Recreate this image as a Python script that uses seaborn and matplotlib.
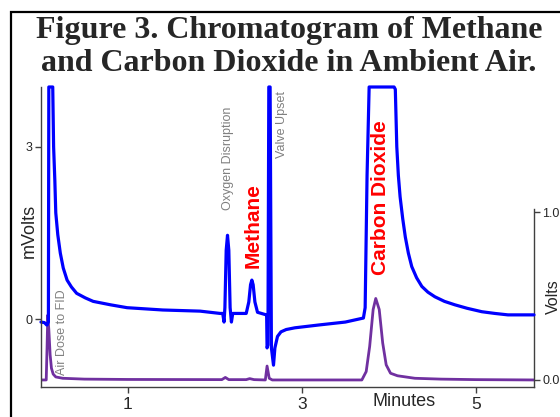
import numpy as np
import pandas as pd
import matplotlib.pyplot as plt
import matplotlib.patches as patches
import seaborn as sns

# FID trace (mV) - values of 5.0 are off-scale (detector saturated)
fid_min = [0.0, 0.04, 0.065, 0.07, 0.085, 0.09, 0.135, 0.145, 0.159, 0.17, 0.193, 0.222,
           0.256, 0.30, 0.35, 0.41, 0.51, 0.60, 0.80, 0.99, 1.40, 1.83, 2.06, 2.09,
           2.105, 2.115, 2.13, 2.145, 2.16, 2.175, 2.19, 2.205, 2.36, 2.39, 2.41, 2.425,
           2.44, 2.46, 2.49, 2.58, 2.595, 2.60, 2.61, 2.62, 2.635, 2.65, 2.674, 2.69,
           2.72, 2.76, 2.82, 2.92, 3.20, 3.50, 3.708, 3.728, 3.75, 3.774, 4.061, 4.075,
           4.092, 4.11, 4.13, 4.16, 4.19, 4.225, 4.264, 4.32, 4.38, 4.45, 4.53, 4.64,
           4.76, 4.90, 5.07, 5.22, 5.37, 5.67]
fid_mv = [-0.05, -0.06, -0.1, -0.1, -0.05, 5.0, 5.0, 3.0, 2.42, 1.85, 1.47, 1.15,
          0.89, 0.68, 0.56, 0.45, 0.37, 0.31, 0.25, 0.2, 0.16, 0.14, 0.1, 0.1,
          -0.05, 0.2, 1.2, 1.46, 1.2, 0.2, -0.05, 0.1, 0.1, 0.3, 0.6, 0.68,
          0.6, 0.3, 0.12, 0.08, 0.08, -0.5, -0.45, 5.0, 5.0, -0.5, -0.8, -0.5,
          -0.3, -0.22, -0.18, -0.15, -0.1, -0.05, 0.02, 0.2, 2.5, 5.0, 5.0, 4.0,
          3.0, 2.5, 2.13, 1.75, 1.43, 1.15, 0.915, 0.72, 0.57, 0.47, 0.39, 0.31,
          0.25, 0.19, 0.13, 0.1, 0.075, 0.075]

# TCD trace (Volts)
tcd_min = [0.0, 0.06, 0.07, 0.078, 0.09, 0.105, 0.12, 0.14, 0.17, 0.25, 0.5, 1.0,
           2.08, 2.12, 2.16, 2.36, 2.40, 2.45, 2.58, 2.60, 2.625, 2.66, 3.0, 3.69,
           3.74, 3.78, 3.82, 3.85, 3.89, 3.93, 3.97, 4.02, 4.10, 4.30, 4.60, 5.0, 5.67]
tcd_v = [0.0, 0.0, 0.2, 0.387, 0.3, 0.15, 0.07, 0.035, 0.018, 0.01, 0.005, 0.003,
         0.002, 0.015, 0.002, 0.002, 0.008, 0.002, 0.0, 0.083, 0.01, 0.0, 0.0, 0.0,
         0.05, 0.2, 0.42, 0.486, 0.42, 0.22, 0.09, 0.04, 0.025, 0.01, 0.005, 0.002, 0.0]

peak_names = ['Air Dose to FID', 'Oxygen Disruption', 'Methane', 'Valve Upset', 'Carbon Dioxide']
peak_min = [0.245, 2.153, 2.44, 2.773, 3.90]
peak_mv = [-0.97, 1.9, 0.89, 2.8, 0.77]

sns.set_theme(style='ticks')
plt.rcParams['font.family'] = ['Liberation Sans', 'DejaVu Sans']

YTOP, YBOT = 4.04, -1.18
fig = plt.figure(figsize=(5.6, 4.17), dpi=100)
ax = fig.add_axes([41 / 560, 30 / 417, 493 / 560, 300 / 417])
ax2 = ax.twinx()

fid = pd.DataFrame({'min': fid_min, 'mv': np.minimum(fid_mv, YTOP)})
tcd = pd.DataFrame({'min': tcd_min, 'v': tcd_v})

sns.lineplot(data=tcd, x='min', y='v', ax=ax2, color='#7030A0', lw=2.0, sort=False)
sns.lineplot(data=fid, x='min', y='mv', ax=ax, color='#0000FF', lw=2.3, sort=False,
             clip_on=False)
ax.set_zorder(ax2.get_zorder() + 1)
ax.patch.set_visible(False)

ax.set_xlim(0, 5.67)
ax.set_ylim(YBOT, YTOP)
ax2.set_ylim(-0.042, 1.747)

ax.set_xticks([1, 3, 5])
ax.set_yticks([0, 3])
ax2.set_yticks([0.0, 1.0])
ax2.set_yticklabels(['0.0', '1.0'])
ax.tick_params(axis='x', labelsize=12.5, length=4, width=1, color='#404040', pad=3)
ax.tick_params(axis='y', labelsize=9, length=4, width=1, color='#404040', pad=2)
ax2.tick_params(axis='y', labelsize=9, length=4, width=1, color='#404040', pad=2)
ax.set_xlabel('')
ax.set_ylabel('')
ax2.set_ylabel('')

for a in (ax, ax2):
    a.spines['top'].set_visible(False)
    for s in a.spines.values():
        s.set_color('#404040')
        s.set_linewidth(1.0)
ax.spines['right'].set_visible(False)
ax2.spines['left'].set_visible(False)
ax2.spines['bottom'].set_visible(False)
ax2.spines['right'].set_bounds(-0.042, 1.02)

# peak labels
for name, x, y in zip(peak_names, peak_min, peak_mv):
    if name in ('Methane', 'Carbon Dioxide'):
        ax.text(x, y, name, rotation=90, ha='center', va='bottom', color='#FF0000',
                fontsize=15, fontweight='bold')
    else:
        ax.text(x, y, name, rotation=90, ha='center', va='bottom', color='#808080',
                fontsize=9)

fig.text(29 / 560, 1 - 231 / 417, 'mVolts', rotation=90, ha='center', va='center', fontsize=13)
fig.text(553 / 560, 1 - 297 / 417, 'Volts', rotation=90, ha='center', va='center', fontsize=11.5)
fig.text(404 / 560, 1 - 402 / 417, 'Minutes', ha='center', va='center', fontsize=13)

fig.text(289 / 560, 1 - 47 / 417, 'Figure 3. Chromatogram of Methane\nand Carbon Dioxide in Ambient Air.',
         ha='center', va='center', fontsize=23, fontweight='bold',
         family=['Liberation Serif', 'DejaVu Serif'], linespacing=1.17)

frame = patches.Rectangle((11 / 560, -0.1), 1.0, 1 - 12 / 417 + 0.1, transform=fig.transFigure,
                          fill=False, edgecolor='black', lw=1.6, clip_on=False)
fig.patches.append(frame)

fig.savefig('out.png', dpi=100)
